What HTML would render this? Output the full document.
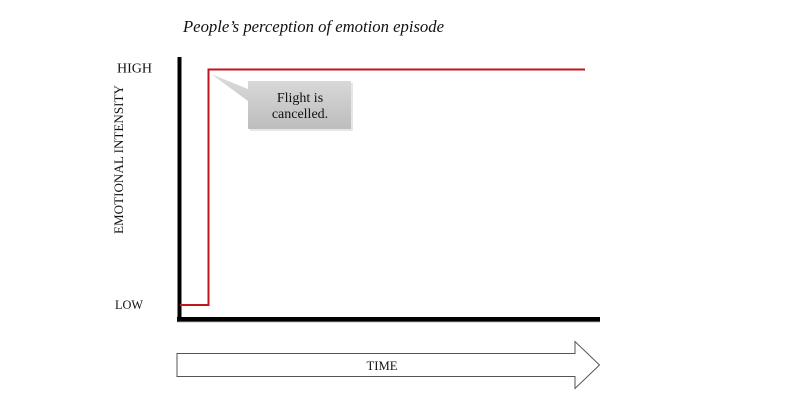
<!DOCTYPE html>
<html>
<head>
<meta charset="utf-8">
<style>
  html, body { margin: 0; padding: 0; background: #ffffff; }
  body { width: 799px; height: 401px; overflow: hidden; }
  svg { display: block; }
  text { font-family: "Liberation Serif", serif; fill: #111; }
</style>
</head>
<body>
<svg width="799" height="401" viewBox="0 0 799 401" xmlns="http://www.w3.org/2000/svg">
  <defs>
    <linearGradient id="g" x1="0" y1="0" x2="0" y2="1">
      <stop offset="0" stop-color="#dcdcdc"/>
      <stop offset="1" stop-color="#bdbdbd"/>
    </linearGradient>
  </defs>

  <!-- Title -->
  <text x="183" y="32" font-size="17" font-style="italic" textLength="261" lengthAdjust="spacingAndGlyphs">People’s perception of emotion episode</text>

  <!-- Axis labels -->
  <text x="117" y="72.5" font-size="14" textLength="35" lengthAdjust="spacingAndGlyphs">HIGH</text>
  <text x="115" y="309" font-size="13" textLength="28" lengthAdjust="spacingAndGlyphs">LOW</text>
  <text transform="translate(123,159.5) rotate(-90)" x="0" y="0" font-size="13" text-anchor="middle" textLength="149" lengthAdjust="spacingAndGlyphs">EMOTIONAL INTENSITY</text>

  <!-- Callout shadow -->
  <path d="M250,83 H353 V131 H250 Z" fill="#e6e6e6"/>
  <!-- Callout -->
  <path d="M248,81 H351 V129 H248 V101 L211,74 L248,89 Z" fill="url(#g)"/>
  <text x="300" y="102" font-size="14" text-anchor="middle">Flight is</text>
  <text x="300" y="118" font-size="14" text-anchor="middle">cancelled.</text>

  <!-- Axes -->
  <rect x="177.5" y="57" width="4" height="264" fill="#000"/>
  <rect x="177" y="317" width="423" height="4.5" fill="#000"/>
  <rect x="177" y="321.5" width="423" height="0.8" fill="#999"/>

  <!-- Red line -->
  <path d="M180,305 H208.5 V69.5 H585" fill="none" stroke="#c0141e" stroke-width="2"/>

  <!-- Time arrow -->
  <polygon points="177,353.5 575,353.5 575,341.5 599.5,365 575,388.5 575,376.5 177,376.5" fill="#fff" stroke="#555" stroke-width="1"/>
  <text x="382" y="370" font-size="13" text-anchor="middle" textLength="31" lengthAdjust="spacingAndGlyphs">TIME</text>
</svg>
</body>
</html>
